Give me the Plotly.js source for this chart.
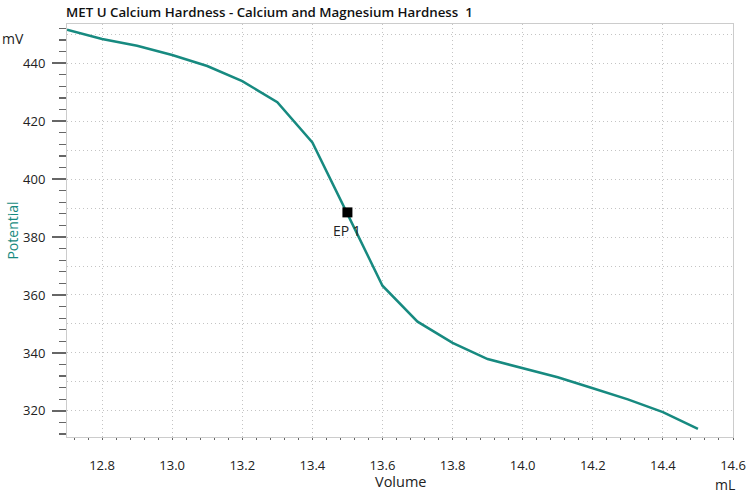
<!DOCTYPE html>
<html>
<head>
<meta charset="utf-8">
<script src="https://cdn.plot.ly/plotly-3.0.1.min.js"></script>
<style>html,body{margin:0;padding:0;background:#fff;}#chart{width:750px;height:500px;}</style>
</head>
<body>
<div id="chart"></div>
<script>
// Data
const volume = [12.7, 12.8, 12.9, 13.0, 13.1, 13.2, 13.3, 13.4, 13.5, 13.6, 13.7, 13.8, 13.9, 14.0, 14.1, 14.2, 14.3, 14.4, 14.5];
const potential = [451.5, 448.3, 446.0, 442.8, 439.0, 433.8, 426.5, 412.6, 388.0, 363.2, 350.8, 343.5, 337.9, 334.7, 331.6, 327.8, 324.0, 319.6, 313.8];
const epVolume = [13.5];
const epPotential = [388.5];
const epLabels = ["EP 1"];
const chartTitle = "MET U Calcium Hardness - Calcium and Magnesium Hardness  1";
const xTitle = "Volume";
const yTitle = "Potential";
const xUnit = "mL";
const yUnit = "mV";

const teal = "#178a80";
const font = "Open Sans, Noto Sans, sans-serif";
const gridDash = "1px,3px";

const traces = [
  {
    x: volume, y: potential, type: "scatter", mode: "lines",
    line: {color: teal, width: 2.5}, hoverinfo: "skip", showlegend: false
  },
  {
    x: volume, y: potential, type: "scatter", mode: "lines", yaxis: "y2",
    line: {color: "rgba(0,0,0,0)", width: 0}, hoverinfo: "skip", showlegend: false
  },
  {
    x: epVolume, y: epPotential, type: "scatter", mode: "markers",
    marker: {symbol: "square", size: 10, color: "#000"},
    hoverinfo: "skip", showlegend: false
  }
];

const layout = {
  width: 750, height: 500,
  margin: {l: 67, r: 17, t: 24, b: 63},
  paper_bgcolor: "#fff", plot_bgcolor: "#fff",
  font: {family: font, size: 13, color: "#222"},
  title: {
    text: chartTitle, x: 66/750, xanchor: "left", xref: "container",
    y: 1 - 12/500, yanchor: "middle", yref: "container",
    font: {family: font, size: 13.3, weight: 600, color: "#111"}
  },
  xaxis: {
    range: [12.7, 14.6], dtick: 0.2, tick0: 0, tickformat: ".1f",
    showgrid: true, gridcolor: "#c4c4c4", griddash: gridDash, gridwidth: 1,
    zeroline: false, showline: true, mirror: true, linecolor: "#cccccc", linewidth: 1,
    ticks: "outside", ticklen: 2, tickcolor: "#666", tickwidth: 1,
    ticklabelstandoff: 14,
    tickfont: {family: font, size: 13, color: "#222"},
    minor: {dtick: 0.04, tick0: 0, ticks: "outside", ticklen: 2, tickcolor: "#666", showgrid: false}
  },
  yaxis: {
    range: [311, 453.5], dtick: 20, tick0: 0,
    showgrid: false,
    zeroline: false, showline: true, mirror: true, linecolor: "#cccccc", linewidth: 1,
    ticks: "outside", ticklen: 14, tickcolor: "#666", tickwidth: 1.3,
    ticklabelstandoff: 4,
    tickfont: {family: font, size: 13, color: "#222"},
    minor: {dtick: 4, tick0: 0, ticks: "outside", ticklen: 7, tickcolor: "#666", tickwidth: 1.3, showgrid: false},
    title: {text: yTitle, standoff: 1, font: {family: font, size: 14, color: teal}}
  },
  yaxis2: {
    overlaying: "y", range: [311, 453.5], dtick: 10, tick0: 0,
    showgrid: true, gridcolor: "#c4c4c4", griddash: gridDash, gridwidth: 1,
    showticklabels: false, ticks: "", zeroline: false, showline: false
  },
  annotations: [
    {text: epLabels[0], xref: "x", yref: "y", x: epVolume[0], y: epPotential[0], yshift: -18,
     xanchor: "center", yanchor: "middle", showarrow: false,
     font: {family: font, size: 14, color: "#222"}},
    {text: xTitle, xref: "paper", yref: "paper", x: (401-67)/666, xanchor: "center", y: -(481-437)/413, yanchor: "middle",
     showarrow: false, font: {family: font, size: 14.5, color: "#222"}},
    {text: yUnit, xref: "paper", yref: "paper", x: -67/666, xanchor: "left", y: 1 - (38-24)/413, yanchor: "middle",
     showarrow: false, font: {family: font, size: 14, color: "#222"}},
    {text: xUnit, xref: "paper", yref: "paper", x: (737-67)/666, xanchor: "right", y: -(484-437)/413, yanchor: "middle",
     showarrow: false, font: {family: font, size: 14, color: "#222"}}
  ]
};

Plotly.newPlot("chart", traces, layout, {staticPlot: true, displayModeBar: false});
</script>
</body>
</html>
